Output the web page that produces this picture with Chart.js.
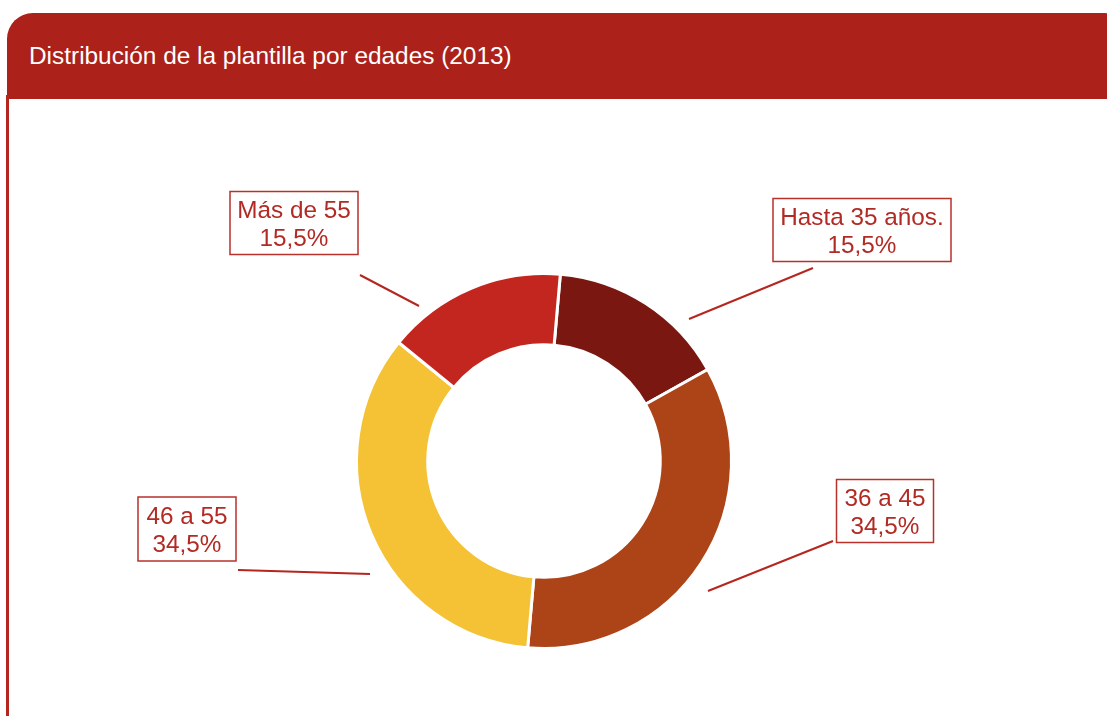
<!DOCTYPE html>
<html>
<head>
<meta charset="utf-8">
<script src="https://cdn.jsdelivr.net/npm/chart.js@4/dist/chart.umd.min.js"></script>
<style>
    html, body { margin: 0; padding: 0; background: #fff; }
    body { width: 1107px; height: 716px; position: relative; overflow: hidden; font-family: "Liberation Sans", Arial, sans-serif; }
    .header {
        position: absolute; left: 7px; top: 13px; width: 1112px; height: 86px;
        background: #AC2119; border-top-left-radius: 26px; border-top-right-radius: 14px;
    }
    .header span {
        position: absolute; left: 22px; top: 29px; color: #fff; font-size: 24.4px; white-space: nowrap;
    }
    .side { position: absolute; left: 6px; top: 95px; width: 3px; height: 640px; background: #B5261F; }
    #chart { position: absolute; left: 0; top: 0; }
</style>
</head>
<body>
<div class="header"><span>Distribución de la plantilla por edades (2013)</span></div>
<div class="side"></div>
<canvas id="chart" width="1107" height="716"></canvas>
<script>
const categories = ['Hasta 35 años.', '36 a 45', '46 a 55', 'Más de 55'];
const shares = [15.5, 34.5, 34.5, 15.5];
const sliceColors = ['#7A1711', '#AC4418', '#F4C234', '#C2261F'];

// callout layout, in pixels relative to the doughnut centre
const callouts = [
    { line: [145, -142, 269, -193], box: [318, -231, 178, 63] },
    { line: [164, 130, 289, 80], box: [341, 50, 97, 63] },
    { line: [-306, 109, -174, 113], box: [-357, 68, 98, 64] },
    { line: [-184, -186, -125, -155], box: [-250, -238, 128, 63] }
];

const calloutPlugin = {
    id: 'callouts',
    afterDraw(chart) {
        const ctx = chart.ctx;
        const arc = chart.getDatasetMeta(0).data[0];
        const cx = arc.x, cy = arc.y;
        ctx.save();
        callouts.forEach((c, i) => {
            ctx.strokeStyle = '#B5261F';
            ctx.lineWidth = 2;
            ctx.beginPath();
            ctx.moveTo(cx + c.line[0], cy + c.line[1]);
            ctx.lineTo(cx + c.line[2], cy + c.line[3]);
            ctx.stroke();

            const bx = cx + c.box[0], by = cy + c.box[1];
            const w = c.box[2], h = c.box[3];
            ctx.fillStyle = '#fff';
            ctx.fillRect(bx - w / 2, by - h / 2, w, h);
            ctx.strokeStyle = '#B8312B';
            ctx.lineWidth = 1.5;
            ctx.strokeRect(bx - w / 2, by - h / 2, w, h);

            ctx.fillStyle = '#B22A24';
            ctx.font = '24.3px "Liberation Sans", Arial, sans-serif';
            ctx.textAlign = 'center';
            ctx.textBaseline = 'middle';
            ctx.fillText(categories[i], bx, by - 12);
            ctx.fillText(shares[i].toFixed(1).replace('.', ',') + '%', bx, by + 16);
        });
        ctx.restore();
    }
};

document.addEventListener('DOMContentLoaded', () => {
    const ctx = document.getElementById('chart');
    new Chart(ctx, {
        type: 'doughnut',
        data: {
            labels: categories,
            datasets: [{
                data: shares,
                backgroundColor: sliceColors,
                borderColor: '#fff',
                borderWidth: 3
            }]
        },
        options: {
            responsive: false,
            animation: false,
            cutout: '62%',
            rotation: 5,
            layout: { padding: { top: 272, bottom: 66, left: 355, right: 374 } },
            plugins: {
                legend: { display: false },
                tooltip: { enabled: false }
            }
        },
        plugins: [calloutPlugin]
    });
});
</script>
</body>
</html>
